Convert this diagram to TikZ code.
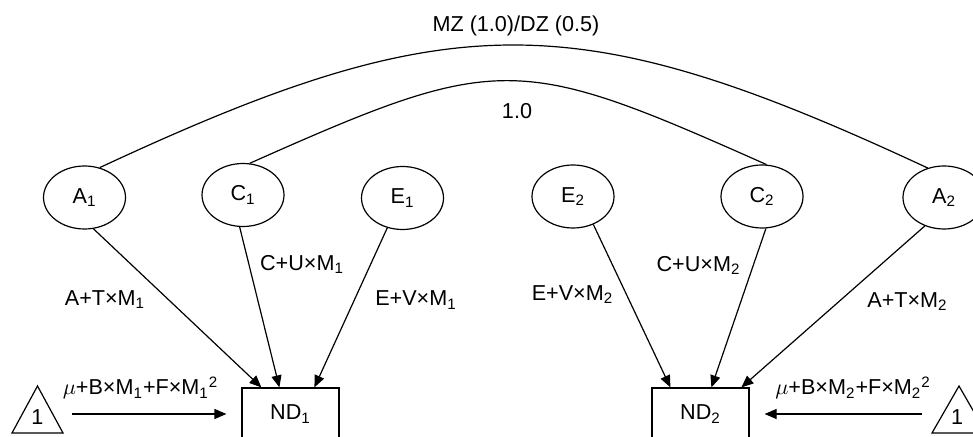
\documentclass[tikz,border=0pt]{standalone}
\usepackage{fontspec}
\setmainfont{Liberation Sans}
\usepackage{tikz}
\usetikzlibrary{arrows.meta}
\usetikzlibrary{shapes.geometric}

\begin{document}
\begin{tikzpicture}[x=0.5pt, y=-0.5pt, line width=0.6pt,
                    font=\fontsize{10.8}{13}\selectfont]
	\clip (0,0) rectangle (973,437);

	\begin{scope}[every node/.style={ellipse, draw, inner sep = 0pt,
	              minimum width=41pt, minimum height=31.5pt}]
		\node (A1) at (84.5,197.5) {A\textsubscript{1}};
		\node (C1) at (243,195) {C\textsubscript{1}};
		\node (E1) at (402.5,198) {E\textsubscript{1}};
		\node (E2) at (573,196.5) {E\textsubscript{2}};
		\node (C2) at (762,196.5) {C\textsubscript{2}};
		\node (A2) at (944,197.5) {A\textsubscript{2}};
	\end{scope}

	\begin{scope}[every node/.style={rectangle, draw, minimum width=48.5pt, minimum height=26pt}]
		\node (ND1) at (290.5,414) {ND\textsubscript{1}};
		\node (ND2) at (700.5,414) {ND\textsubscript{2}};
	\end{scope}

	% constants
	\draw (12,433) -- (37.5,386) -- (63,433) -- cycle;
	\draw (932,433) -- (959,386) -- (986,433) -- cycle;
	\node[anchor=base] (one1) at (37.5,425) {1};
	\node[anchor=base] (one2) at (957,425) {1};
	\coordinate (mu1) at (72,414);
	\coordinate (mu2) at (922,414);

	% correlations
	\draw (A1.63) to[out=25, in=155, looseness=1.2] (A2.119);
	\draw (C1.78) to[out=24, in=156, looseness=1.35] (C2.82);

	\begin{scope}[>={Triangle[length=6pt, width=5pt]}]
		\path[->] (A1.-74) edge ([xshift=10pt]ND1.north west);
		\path[->] (C1.-96) edge ([xshift=19pt]ND1.north west);
		\path[->] (E1.-117) edge ([xshift=36.5pt]ND1.north west);
		\path[->] (E2.-54) edge ([xshift=9.5pt]ND2.north west);
		\path[->] (C2.-83) edge ([xshift=30pt]ND2.north west);
		\path[->] (A2.-124) edge ([xshift=45pt]ND2.north west);
		\path[->] (mu1) edge ([xshift=-7.5pt]ND1.west);
		\path[->] (mu2) edge ([xshift=7.5pt]ND2.east);
	\end{scope}

	\begin{scope}[every node/.style={anchor=base}]
		\node (lMZ) at (516,32) {MZ (1.0)/DZ (0.5)};
		\node (lone) at (517,119) {1.0};
		\node (lA1) at (105,305.7) {A+T×M\textsubscript{1}};
		\node (lC1) at (302,270.7) {C+U×M\textsubscript{1}};
		\node (lE1) at (416,306) {E+V×M\textsubscript{1}};
		\node (lE2) at (572.5,300.7) {E+V×M\textsubscript{2}};
		\node (lC2) at (698.5,271.5) {C+U×M\textsubscript{2}};
		\node (lA2) at (907.5,307.5) {A+T×M\textsubscript{2}};
		\node (lmu1) at (140.5,395) {$\mu$+B×M\textsubscript{1}+F×M\textsubscript{1}\textsuperscript{2}};
		\node (lmu2) at (853,395) {$\mu$+B×M\textsubscript{2}+F×M\textsubscript{2}\textsuperscript{2}};
	\end{scope}
\end{tikzpicture}
\end{document}
